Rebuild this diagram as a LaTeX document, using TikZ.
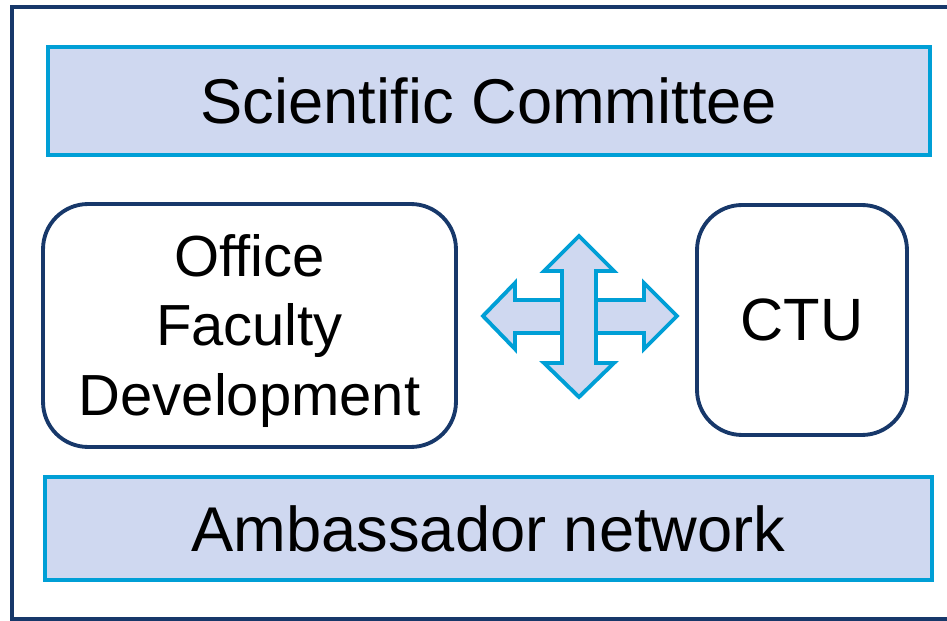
\documentclass[tikz,border=0pt]{standalone}
\usepackage{fontspec}
\setmainfont{Liberation Sans}
\usepackage{xcolor}
\usetikzlibrary{positioning}

\definecolor{navy}{HTML}{17386A}
\definecolor{cyanline}{HTML}{009FD6}
\definecolor{lavender}{HTML}{CFD8F0}

\tikzset{
  bar/.style={draw=cyanline, fill=lavender, line width=2.2pt, font=\fontsize{36}{40}\selectfont},
  unit/.style={draw=navy, fill=white, line width=2.2pt, rounded corners=0.9cm, align=center}
}

\begin{document}
\begin{tikzpicture}[x=0.02cm, y=-0.02cm]
    \useasboundingbox (0,0) rectangle (947,621);
    \clip (0,0) rectangle (947,621);
    % Frame
    \draw[navy, line width=2.4pt] (12,7) rectangle (990,619);

    % Bars
    \node[bar, minimum width=17.64cm, minimum height=2.16cm] (sci) at (489,101) {Scientific Committee};
    \node[bar, minimum width=17.74cm, minimum height=2.06cm] (amb) at (488.5,528.5) {Ambassador network};

    % Units
    \node[unit, minimum width=8.26cm, minimum height=4.86cm] (ofd) at (249.5,325.5) {};
    \node[align=center, font=\fontsize{33}{39.5}\selectfont] (ofdtext) at (249.5,331) {Office\\Faculty\\Development};
    \node[unit, minimum width=4.2cm, minimum height=4.6cm, font=\fontsize{34}{40}\selectfont] (ctu) at (802,320) {CTU};

    % Cross arrow
    \draw[cyanline, fill=lavender, line width=2.2pt, line join=miter]
        (483,316) -- (515,283) -- (515,300) -- (644,300) -- (644,283) -- (677,316)
        -- (644,349) -- (644,333) -- (515,333) -- (515,349) -- cycle;
    \draw[cyanline, fill=lavender, line width=2.2pt, line join=miter]
        (579,236) -- (614,271) -- (596,271) -- (596,363) -- (614,363) -- (579,397)
        -- (544,363) -- (562,363) -- (562,271) -- (544,271) -- cycle;
\end{tikzpicture}
\end{document}
